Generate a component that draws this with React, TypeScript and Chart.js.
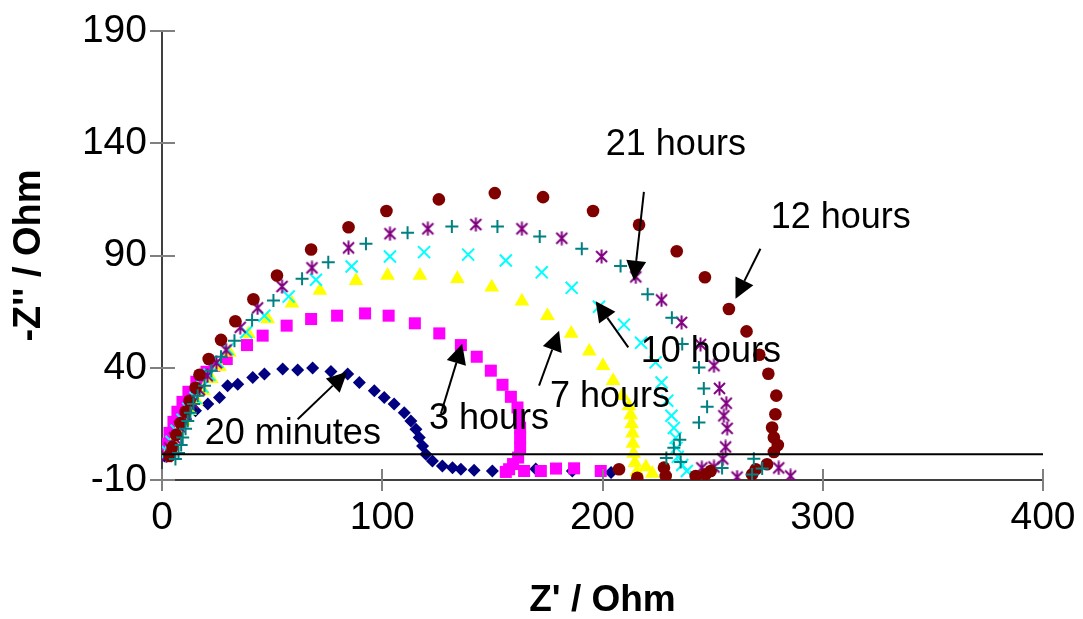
import React, { useEffect, useRef } from 'react';
import { Chart, registerables } from 'chart.js';

Chart.register(...registerables);

// ---------- data (Z' , -Z'') ----------
const min20X = [1.1, 2.5, 4.3, 7.0, 10.7, 15.2, 20.8, 26.1, 29.8, 34.4, 41.2, 46.5, 54.8, 61.6, 68.4, 76.7, 84.3, 89.6, 96.4, 100.9, 105.4, 110.0, 113.0, 115.3, 116.8, 118.3, 119.8, 122.8, 127.3, 131.9, 135.7, 141.7, 150.0, 169.7, 186.3, 203.9];
const min20Y = [0.7, 4.3, 8.3, 12.8, 17.2, 20.8, 23.8, 26.7, 32.0, 32.7, 35.7, 37.2, 39.4, 39.0, 39.9, 38.3, 37.2, 33.4, 29.7, 26.7, 23.8, 20.0, 16.3, 12.6, 8.9, 5.2, 1.5, -1.5, -3.75, -4.5, -5.2, -5.7, -6.0, -5.1, -6.0, -6.7];

const h3X = [1.1, 2.0, 3.4, 5.2, 7.0, 9.3, 12.0, 15.6, 20.2, 23.8, 29.4, 38.6, 45.7, 56.6, 67.7, 79.5, 92.2, 102.9, 114.8, 125.9, 135.7, 142.9, 149.3, 154.6, 158.4, 161.4, 162.1, 162.6, 162.6, 162.6, 161.7, 159.4, 157.6, 156.1, 164.4, 172.0, 178.9, 187.1, 199.2];
const h3Y = [2.05, 6.1, 11.0, 15.9, 20.4, 24.8, 29.3, 33.75, 38.2, 40.9, 43.9, 50.1, 54.3, 58.75, 61.7, 63.2, 64.2, 63.2, 59.8, 55.3, 50.1, 44.9, 38.7, 32.4, 27.05, 22.3, 17.8, 13.3, 8.9, 4.4, 0, -2.9, -5.2, -6.4, -6.0, -6.0, -4.9, -4.8, -6.0];

const h7X = [2.5, 4.8, 7.0, 9.75, 12.5, 15.6, 18.8, 22.4, 26.1, 30.6, 39.2, 48.0, 59.0, 71.7, 88.1, 102.4, 117.1, 134.1, 149.7, 163.4, 175.0, 185.8, 194.0, 200.2, 204.8, 209.0, 212.0, 212.8, 213.2, 213.6, 213.8, 214.1, 214.7, 215.6, 219.7, 222.6];
const h7Y = [2.05, 6.5, 11.4, 16.3, 20.8, 25.3, 29.7, 35.1, 40.4, 46.8, 55.0, 61.7, 68.7, 74.4, 78.8, 81.1, 81.1, 79.6, 75.85, 69.6, 63.2, 55.3, 47.3, 40.9, 34.2, 27.5, 23.0, 19.0, 14.9, 10.8, 6.3, 1.8, -2.3, -6.4, -4.2, -7.1];

const h10X = [2.5, 4.3, 6.6, 9.3, 12.0, 15.2, 18.4, 21.5, 25.2, 29.8, 38.2, 46.5, 57.5, 69.9, 86.1, 103.5, 119.0, 139.0, 156.1, 172.4, 186.0, 198.4, 209.75, 217.5, 224.1, 226.8, 229.4, 231.3, 232.4, 233.2, 233.6, 234.2, 236.2, 238.3, 242.4];
const h10Y = [2.5, 7.0, 11.9, 16.8, 21.7, 26.6, 31.5, 36.9, 42.7, 48.3, 55.8, 63.2, 71.7, 79.2, 85.1, 89.55, 91.5, 90.4, 87.8, 82.5, 75.6, 67.2, 59.2, 51.1, 42.4, 33.4, 25.3, 18.6, 13.2, 8.75, 4.3, 0.3, -3.3, -6.0, -8.7];

const h21X = [2.0, 3.4, 5.7, 7.9, 10.7, 13.8, 17.0, 20.6, 24.7, 29.1, 35.5, 43.4, 54.5, 68.1, 84.7, 103.5, 120.7, 142.5, 163.4, 181.5, 199.6, 215.1, 226.8, 235.9, 244.5, 250.6, 253.1, 256.2, 255.1, 256.6, 255.9, 254.6, 250.6, 245.1, 261.1, 280.0, 285.4];
const h21Y = [0.7, 4.3, 8.75, 13.7, 19.0, 24.4, 30.2, 36.4, 42.2, 47.9, 58.0, 66.65, 76.2, 84.5, 93.4, 99.7, 101.9, 103.8, 101.9, 97.7, 89.55, 80.5, 70.2, 60.2, 50.4, 40.9, 30.8, 24.2, 18.6, 13.0, 4.7, -0.6, -4.2, -4.6, -8.7, -4.6, -8.2];

const h12X = [3.4, 4.8, 6.4, 8.4, 10.7, 12.5, 15.2, 17.0, 21.2, 26.8, 33.3, 41.5, 52.2, 67.7, 84.7, 101.9, 125.7, 151.1, 173.0, 195.7, 216.6, 233.7, 246.5, 257.4, 265.4, 271.2, 275.3, 278.9, 278.5, 277.0, 277.8, 279.6, 277.8, 274.7, 269.6, 267.9, 249.1, 246.8, 242.3, 227.9, 228.7, 215.8, 207.5];
const h12Y = [0.7, 4.7, 10.1, 15.4, 20.4, 25.3, 31.1, 36.9, 43.9, 52.4, 60.7, 70.5, 81.1, 92.7, 102.6, 109.8, 115.0, 117.8, 116.0, 109.8, 103.7, 91.9, 80.3, 66.2, 56.2, 45.8, 37.3, 27.6, 19.3, 13.35, 8.9, 5.6, 2.5, -3.0, -5.2, -7.5, -6.0, -7.5, -8.2, -4.5, -8.2, -9.0, -5.2];

const hPlusX = [6.1, 7.5, 8.7, 9.4, 10.7, 11.7, 12.9, 14.3, 16.2, 19.3, 22.4, 26.8, 32.9, 40.9, 50.6, 63.6, 75.5, 92.6, 111.5, 131.6, 152.3, 171.5, 190.6, 208.2, 220.5, 231.5, 236.2, 243.8, 246.0, 247.5, 243.8, 235.1, 232.4, 229.0, 235.5, 254.3, 268.7, 267.9, 272.5];
const hPlusY = [-0.6, 2.05, 5.6, 8.9, 12.8, 16.3, 19.9, 23.9, 27.5, 32.0, 38.7, 44.9, 52.05, 61.3, 69.9, 79.6, 87.0, 95.2, 100.1, 102.9, 102.9, 98.5, 93.0, 85.3, 72.7, 62.3, 50.6, 40.1, 30.8, 22.6, 15.6, 7.9, 4.4, -0.2, -2.0, -4.6, -0.5, -7.5, -4.9];

const xTicks = [0, 100, 200, 300, 400];
const yTicks = [-10, 40, 90, 140, 190];
const baselineValue = 1.5;

// annotation labels: text, label centre (data units), arrow tail and tip (data units)
const labelTexts = ['20 minutes', '3 hours', '7 hours', '10 hours', '21 hours', '12 hours'];
const labelX = [59.4, 148.5, 203.4, 249.2, 233.3, 308.2];
const labelY = [10.3, 17.2, 26.8, 46.9, 139.1, 106.7];
const arrowTailX = [61.6, 126.6, 171.2, 211.7, 218.8, 271.7];
const arrowTailY = [17.1, 19.5, 32.0, 49.1, 118.3, 93.0];
const arrowTipX = [84.1, 136.3, 180.3, 196.9, 214.3, 260.4];
const arrowTipY = [38.2, 50.7, 56.5, 69.6, 78.8, 70.7];

const FONT = "'Liberation Sans', Arial, sans-serif";

function zip(xs: number[], ys: number[]) {
  return xs.map((x, i) => ({ x, y: ys[i] }));
}

function makeStar(color: string) {
  const c = document.createElement('canvas');
  c.width = 15;
  c.height = 15;
  const g = c.getContext('2d')!;
  g.strokeStyle = color;
  g.lineWidth = 2;
  g.beginPath();
  g.moveTo(2, 2); g.lineTo(13, 13);
  g.moveTo(13, 2); g.lineTo(2, 13);
  g.moveTo(7.5, 0.5); g.lineTo(7.5, 14.5);
  g.stroke();
  return c;
}

const overlayPlugin = {
  id: 'overlay',
  afterDatasetsDraw(chart: any) {
    const { ctx, chartArea } = chart;
    const xs = chart.scales.x;
    const ys = chart.scales.y;
    ctx.save();
    // baseline
    const by = ys.getPixelForValue(baselineValue);
    ctx.strokeStyle = '#000';
    ctx.lineWidth = 2;
    ctx.beginPath();
    ctx.moveTo(chartArea.left, by);
    ctx.lineTo(chartArea.right, by);
    ctx.stroke();
    // cross tick marks
    ctx.strokeStyle = '#808080';
    ctx.lineWidth = 2;
    ctx.beginPath();
    yTicks.forEach((v) => {
      const py = Math.round(ys.getPixelForValue(v));
      ctx.moveTo(chartArea.left - 12, py);
      ctx.lineTo(chartArea.left + 13, py);
    });
    xTicks.forEach((v) => {
      const px = Math.round(xs.getPixelForValue(v));
      ctx.moveTo(px, chartArea.bottom - 11);
      ctx.lineTo(px, chartArea.bottom + 11);
    });
    ctx.stroke();
    // arrows
    ctx.strokeStyle = '#000';
    ctx.fillStyle = '#000';
    labelTexts.forEach((_, i) => {
      const x0 = xs.getPixelForValue(arrowTailX[i]);
      const y0 = ys.getPixelForValue(arrowTailY[i]);
      const x1 = xs.getPixelForValue(arrowTipX[i]);
      const y1 = ys.getPixelForValue(arrowTipY[i]);
      const ang = Math.atan2(y1 - y0, x1 - x0);
      const hl = 20, hw = 10;
      const bx = x1 - hl * Math.cos(ang);
      const byy = y1 - hl * Math.sin(ang);
      ctx.lineWidth = 2;
      ctx.beginPath();
      ctx.moveTo(x0, y0);
      ctx.lineTo(bx, byy);
      ctx.stroke();
      ctx.beginPath();
      ctx.moveTo(x1, y1);
      ctx.lineTo(bx + hw * Math.sin(ang), byy - hw * Math.cos(ang));
      ctx.lineTo(bx - hw * Math.sin(ang), byy + hw * Math.cos(ang));
      ctx.closePath();
      ctx.fill();
    });
    // labels
    ctx.font = `36px ${FONT}`;
    ctx.textAlign = 'center';
    ctx.textBaseline = 'middle';
    ctx.fillStyle = '#000';
    labelTexts.forEach((t, i) => {
      ctx.fillText(t, xs.getPixelForValue(labelX[i]), ys.getPixelForValue(labelY[i]));
    });
    ctx.restore();
  },
};

export default function App() {
  const ref = useRef<HTMLCanvasElement>(null);
  useEffect(() => {
    const canvas = ref.current!;
    const star = makeStar('#800080');
    const common = { showLine: false, pointBorderWidth: 0 };
    const chart = new Chart(canvas, {
      type: 'scatter',
      data: {
        datasets: [
          { ...common, label: '20 minutes', data: zip(min20X, min20Y), pointStyle: 'rectRot', pointRadius: 6.5, backgroundColor: '#000080', borderColor: '#000080', order: 7 },
          { ...common, label: '3 hours', data: zip(h3X, h3Y), pointStyle: 'rect', pointRadius: 8.5, backgroundColor: '#FF00FF', borderColor: '#FF00FF', order: 6 },
          { ...common, label: '7 hours', data: zip(h7X, h7Y), pointStyle: 'triangle', pointRadius: 8.5, backgroundColor: '#FFFF00', borderColor: '#FFFF00', order: 5 },
          { label: '10 hours', showLine: false, data: zip(h10X, h10Y), pointStyle: 'crossRot', pointRadius: 8.5, pointBorderWidth: 2, backgroundColor: '#00FFFF', borderColor: '#00FFFF', order: 4 },
          { label: '21 hours', showLine: false, data: zip(h21X, h21Y), pointStyle: star, pointRadius: 7, backgroundColor: '#800080', borderColor: '#800080', order: 3 },
          { ...common, label: '12 hours', data: zip(h12X, h12Y), pointStyle: 'circle', pointRadius: 6.3, backgroundColor: '#800000', borderColor: '#800000', order: 2 },
          { label: 'other', showLine: false, data: zip(hPlusX, hPlusY), pointStyle: 'cross', pointRadius: 6.5, pointBorderWidth: 2, backgroundColor: '#008080', borderColor: '#008080', order: 1 },
        ],
      },
      options: {
        animation: false,
        responsive: false,
        layout: { padding: { top: 31, right: 40, left: 0, bottom: 0 } },
        plugins: { legend: { display: false }, tooltip: { enabled: false } },
        elements: { point: { hoverRadius: 0 } },
        scales: {
          x: {
            type: 'linear',
            min: 0,
            max: 400,
            afterBuildTicks: (s: any) => { s.ticks = xTicks.map((v) => ({ value: v })); },
            afterFit: (s: any) => { s.height = 139; s.paddingLeft = 0; s.paddingRight = 0; },
            grid: { display: false, drawTicks: false },
            border: { display: true, color: '#404040', width: 2 },
            ticks: { color: '#000', padding: 15, font: { family: FONT, size: 39 }, maxRotation: 0 },
            title: { display: true, text: "Z' / Ohm", color: '#000', padding: { top: 0, bottom: 0 }, font: { family: FONT, size: 37, weight: 'bold', lineHeight: 1 } },
          },
          y: {
            type: 'linear',
            min: -10,
            max: 190,
            afterBuildTicks: (s: any) => { s.ticks = yTicks.map((v) => ({ value: v })); },
            afterFit: (s: any) => { s.width = 162; s.paddingTop = 0; s.paddingBottom = 0; },
            grid: { display: false, drawTicks: false },
            border: { display: true, color: '#404040', width: 2 },
            ticks: { color: '#000', padding: 15, font: { family: FONT, size: 39 } },
            title: { display: true, text: "-Z'' / Ohm", color: '#000', padding: { top: 11, bottom: 0 }, font: { family: FONT, size: 38, weight: 'bold', lineHeight: 1 } },
          },
        },
      },
      plugins: [overlayPlugin],
    } as any);
    return () => chart.destroy();
  }, []);
  return (
    <div style={{ position: 'absolute', left: 0, top: 0, width: 1083, height: 619, background: '#fff' }}>
      <canvas ref={ref} width={1083} height={619} style={{ display: 'block' }} />
    </div>
  );
}
